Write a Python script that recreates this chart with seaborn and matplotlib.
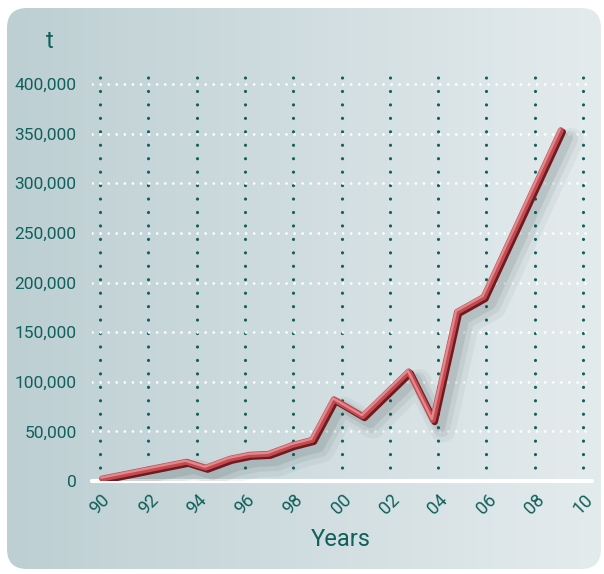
import numpy as np
import matplotlib
matplotlib.use("Agg")
import matplotlib.pyplot as plt
import matplotlib.patheffects as pe
from matplotlib.patches import FancyBboxPatch
import seaborn as sns
import pandas as pd

# ---- data ----
years = [1990.1, 1993.6, 1994.4, 1995.4, 1996.2, 1997.0, 1998.0, 1998.8,
         1999.7, 2000.9, 2002.8, 2003.8, 2004.8, 2005.9, 2009.1]
tonnes = [2000, 19000, 13000, 22000, 26000, 27000, 36000, 41000,
          82000, 65000, 110000, 61000, 170000, 185000, 353000]
x_ticks = [1990, 1992, 1994, 1996, 1998, 2000, 2002, 2004, 2006, 2008, 2010]
x_tick_labels = ["90", "92", "94", "96", "98", "00", "02", "04", "06", "08", "10"]
y_ticks = [0, 50000, 100000, 150000, 200000, 250000, 300000, 350000, 400000]
y_unit = "t"
x_title = "Years"

sns.set_theme(style="white")
plt.rcParams['font.family'] = ['Roboto', 'DejaVu Sans']

TEAL = "#10605c"
W, H = 604, 574
fig = plt.figure(figsize=(W / 100, H / 100), dpi=100)
fig.patch.set_facecolor("white")

# background rounded panel with horizontal gradient
bg = fig.add_axes([0, 0, 1, 1], zorder=0)
bg.set_xlim(0, W)
bg.set_ylim(H, 0)
bg.axis("off")
c0 = np.array([189, 207, 211]) / 255
c1 = np.array([228, 235, 237]) / 255
t = np.linspace(0, 1, 256)
grad = (c0[None, :] * (1 - t[:, None]) + c1[None, :] * t[:, None])[None, :, :]
im = bg.imshow(grad, extent=[7, 601, 569, 8], aspect="auto", zorder=0)
panel = FancyBboxPatch((7 + 20, 8 + 20), 594 - 40, 561 - 40,
                       boxstyle="round,pad=20", transform=bg.transData,
                       facecolor="none", edgecolor="none")
bg.add_patch(panel)
im.set_clip_path(panel)

# main axes
left, right, top, bottom = 92, 592, 74, 481
ax = fig.add_axes([left / W, 1 - bottom / H, (right - left) / W, (bottom - top) / H], zorder=1)
ax.patch.set_alpha(0)
px_per_year = (583 - 100) / 20
ax.set_xlim(1990 - (100 - left) / px_per_year, 1990 + (right - 100) / px_per_year)
ax.set_ylim(0, 400000 * (bottom - top) / (481 - 84))

for s in ax.spines.values():
    s.set_visible(False)

ax.set_xticks(x_ticks)
ax.set_xticklabels(x_tick_labels, rotation=45, ha="center", va="top",
                   color=TEAL, fontsize=13)
ax.set_yticks(y_ticks)
ax.set_yticklabels([f"{v:,}" for v in y_ticks], color=TEAL, fontsize=12.5)
ax.tick_params(axis="x", length=0, pad=7)
ax.tick_params(axis="y", length=0, pad=11)

# grid lines
for xv in x_ticks:
    ax.axvline(xv, color=TEAL, linestyle=(0, (0.01, 4.2)), linewidth=2.3,
               dash_capstyle="round", zorder=1)
for yv in y_ticks[1:]:
    ax.axhline(yv, color="white", linestyle=(0, (0.01, 2.9)), linewidth=2.0,
               dash_capstyle="round", zorder=2)
ax.axhline(0, color="white", linewidth=3, zorder=2, clip_on=False)

# the line with shadow and tube look
df = pd.DataFrame({"year": years, "tonnes": tonnes})
sns.lineplot(data=df, x="year", y="tonnes", ax=ax, color="#c44a51",
             linewidth=5.2, zorder=5, legend=False)
line = ax.lines[-1]
line.set_solid_capstyle("round")
line.set_solid_joinstyle("round")
line.set_path_effects([
    pe.SimpleLineShadow(offset=(7, -7), shadow_color="#2a3a3c", alpha=0.05, linewidth=18),
    pe.SimpleLineShadow(offset=(6, -6), shadow_color="#2a3a3c", alpha=0.07, linewidth=12),
    pe.SimpleLineShadow(offset=(5, -5), shadow_color="#2a3a3c", alpha=0.10, linewidth=7),
    pe.Stroke(linewidth=4.8, foreground="#6e1a1f", offset=(1.0, -1.0)),
    pe.Stroke(linewidth=4.3, foreground="#c44a51", offset=(-0.3, 0.3)),
    pe.Stroke(linewidth=1.7, foreground="#e08a8e", offset=(-1.0, 1.0)),
])
ax.set_xlabel("")
ax.set_ylabel("")

fig.text(50 / W, 1 - 42 / H, y_unit, color=TEAL, fontsize=17, ha="center", va="center")
fig.text(341 / W, 1 - 539 / H, x_title, color=TEAL, fontsize=17, ha="center", va="center")

fig.savefig("out.png", dpi=100, facecolor="white")
